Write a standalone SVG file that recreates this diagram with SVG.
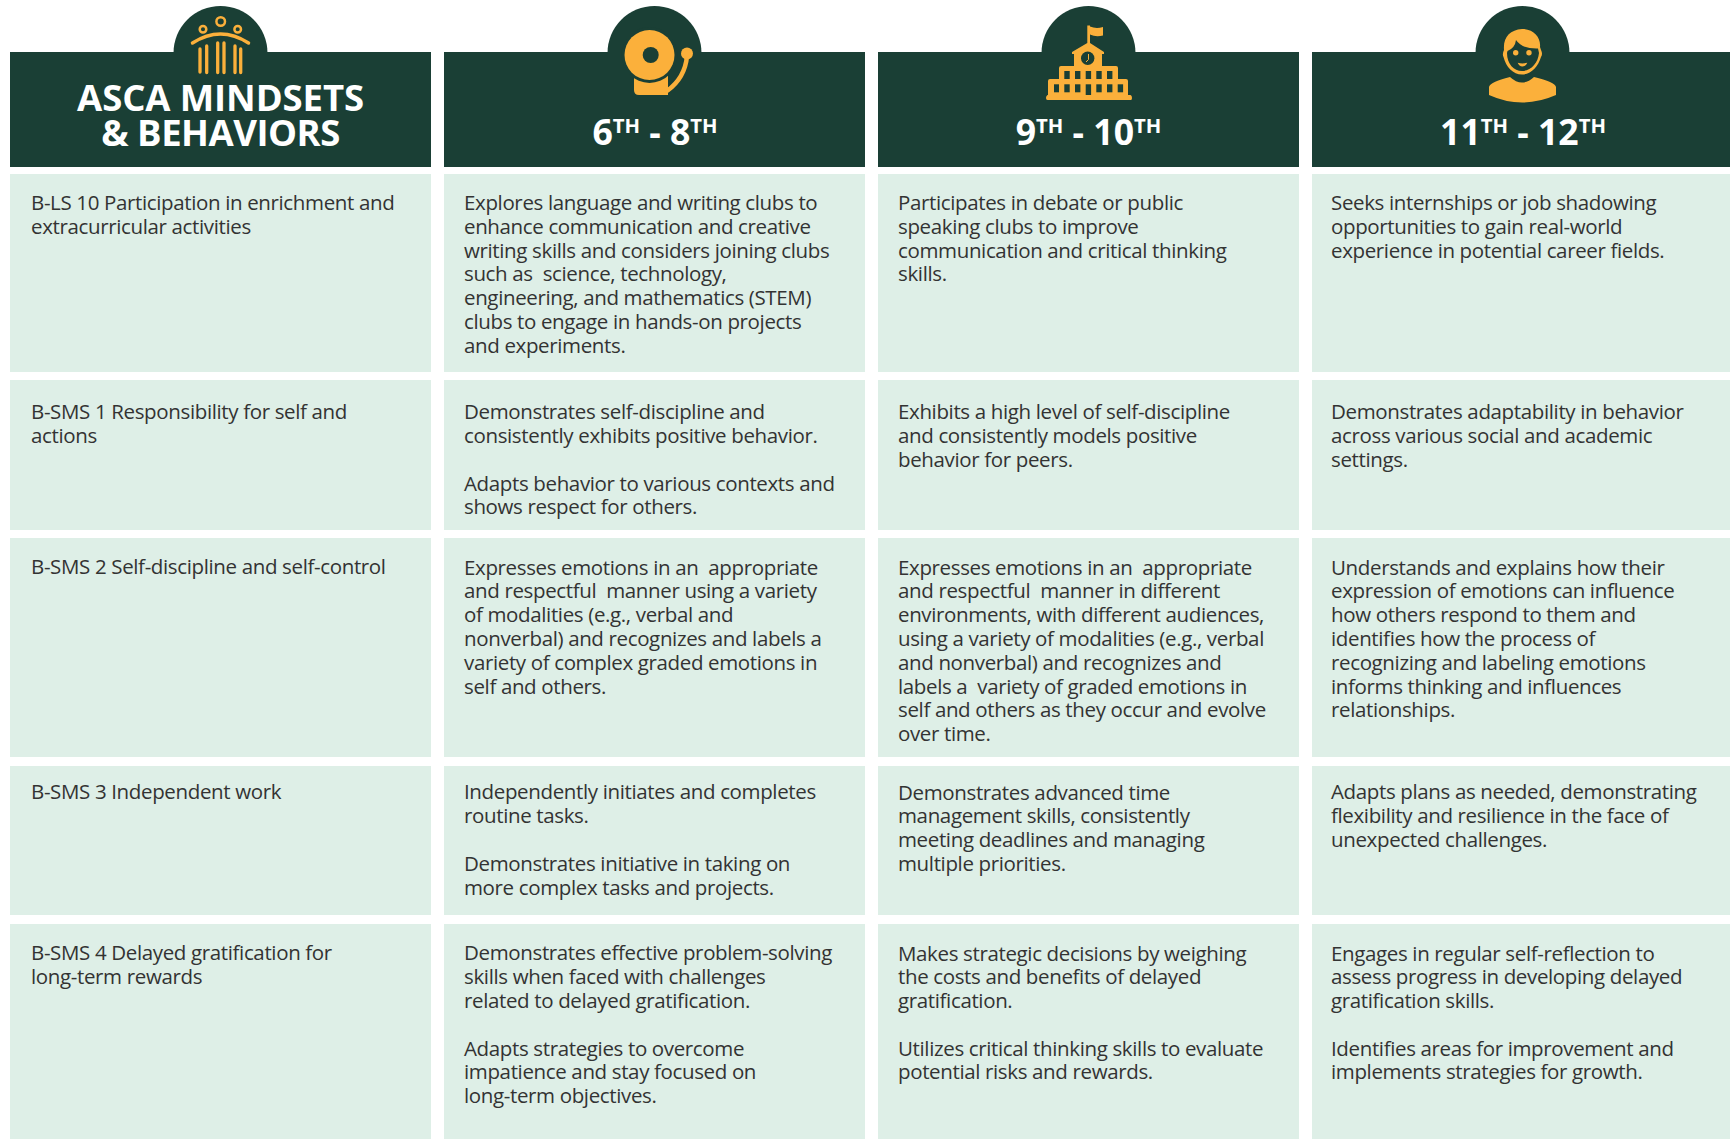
<svg xmlns="http://www.w3.org/2000/svg" width="1730" height="1139" viewBox="0 0 1730 1139">
<style>
.h{fill:#1a3f35}.c{fill:#deefe7}.i{fill:#fbb03b}
.s{fill:none;stroke:#fbb03b;stroke-linecap:round}
text{font-family:"Open Sans","Noto Sans",sans-serif}
.t{font-size:20.5px;fill:#333333;letter-spacing:-0.36px;white-space:pre}
.a{font-size:36.5px;font-weight:700;fill:#fff;text-anchor:middle;letter-spacing:-0.5px}
.g{font-size:35.6px;font-weight:700;fill:#fff;text-anchor:middle}
.sup{font-size:20.3px}
</style>
<rect width="1730" height="1139" fill="#fff"/>
<g id="header-mindsets">
<circle class="h" cx="220.500" cy="53" r="47"/><rect class="h" x="10" y="52" width="421" height="115"/>
<g class="s"><circle cx="220.700" cy="21.500" r="4.300" stroke-width="2.500"/><circle cx="203" cy="29.300" r="3.300" stroke-width="2.500"/><circle cx="237.700" cy="29.300" r="3.300" stroke-width="2.500"/>
<path d="M192.500 43Q220.500 25 248.500 43" stroke-width="3.500"/>
<path d="M200 49V72M206.700 46V72.500M217.700 43V72.500M224 43V72.500M235 46V72.500M240.700 49V72.500" stroke-width="3.300"/></g>
<text class="a" x="220.500" y="111" style="letter-spacing:-0.1px">ASCA MINDSETS</text><text class="a" x="220.500" y="146">&amp; BEHAVIORS</text>
</g>
<g id="header-6-8">
<circle class="h" cx="654.500" cy="53" r="47"/><rect class="h" x="444" y="52" width="421" height="115"/>
<path class="i" d="M634 72H668V95H639Q634 95 634 90Z"/>
<path d="M687 56Q685 78 667 91" fill="none" stroke="#fbb03b" stroke-width="4.500"/>
<circle class="i" cx="687" cy="53.500" r="6"/>
<circle class="h" cx="649.500" cy="55" r="28"/>
<circle class="i" cx="649.500" cy="55" r="25"/><circle class="h" cx="650.700" cy="55" r="8"/>
<text class="g" x="655" y="145">6<tspan class="sup" dy="-12">TH</tspan><tspan dy="12"> - 8</tspan><tspan class="sup" dy="-12">TH</tspan></text>
</g>
<g id="header-9-10">
<circle class="h" cx="1088.500" cy="53" r="47"/><rect class="h" x="878" y="52" width="421" height="115"/>
<path class="i" d="M1087.300 43V25.500H1090V26.500Q1096 29 1103 27V35.500Q1096 37.500 1090 34.500V43L1104 52V54H1102V66H1116Q1118 66 1118 68V79H1126Q1128 79 1128 81V95H1130.500Q1132 95.500 1132 98T1130.500 100H1047.500Q1046 100 1046 98T1047.500 95H1048V81Q1048 79 1050 79H1059V68Q1059 66 1061 66H1074V54H1072V52Z"/>
<circle class="h" cx="1087.700" cy="58.300" r="6.700"/>
<path d="M1088.500 54V59.500L1086 62" fill="none" stroke="#fbb03b" stroke-width="1"/>
<g class="h"><rect x="1064.300" y="71" width="5.400" height="8"/><rect x="1075" y="71" width="5.400" height="8"/><rect x="1085.700" y="71" width="5.400" height="8"/><rect x="1096.300" y="71" width="5.400" height="8"/><rect x="1107" y="71" width="5.400" height="8"/>
<rect x="1054" y="84.300" width="5" height="8"/><rect x="1064.300" y="84.300" width="5.400" height="8"/><rect x="1075" y="84.300" width="5.400" height="8"/><rect x="1085.700" y="84.300" width="5.400" height="10.700"/><rect x="1096.300" y="84.300" width="5.400" height="8"/><rect x="1107" y="84.300" width="5.400" height="8"/><rect x="1117.700" y="84.300" width="5.400" height="8"/></g>
<text class="g" x="1088.500" y="145">9<tspan class="sup" dy="-12">TH</tspan><tspan dy="12"> - 10</tspan><tspan class="sup" dy="-12">TH</tspan></text>
</g>
<g id="header-11-12">
<circle class="h" cx="1522.500" cy="53" r="47"/><rect class="h" x="1312" y="52" width="418" height="115"/>
<path class="i" d="M1504 50C1503 37 1510 30 1522 29C1534 29 1541 38 1540 47L1541 50Q1543 54 1541 57C1538 67 1531 74.500 1522 74.500C1513 74.500 1506 67 1503.500 57Q1502 54 1504 50Z"/>
<path class="h" d="M1507.500 51Q1515 48 1516 40Q1522 49 1538 48.500L1539 53C1538 64 1530 71 1522 71C1514 71 1507 64 1507 53Z"/>
<circle class="i" cx="1515.700" cy="52.700" r="2.700"/><circle class="i" cx="1529" cy="52.700" r="2.700"/>
<path class="i" d="M1517.700 62.800Q1522.500 64 1527.300 62.800Q1526 66.500 1522.500 66.500Q1519 66.500 1517.700 62.800Z"/>
<path class="i" d="M1510 77Q1522 88 1534 77Q1555 82 1556 87V95Q1522 110 1489 95V87Q1490 82 1510 77Z"/>
<text class="g" x="1523" y="145">11<tspan class="sup" dy="-12">TH</tspan><tspan dy="12"> - 12</tspan><tspan class="sup" dy="-12">TH</tspan></text>
</g>
<g id="row-1">
<rect class="c" x="10" y="174" width="421" height="198"/><rect class="c" x="444" y="174" width="421" height="198"/><rect class="c" x="878" y="174" width="421" height="198"/><rect class="c" x="1312" y="174" width="418" height="198"/>
<text class="t"><tspan x="31" y="210">B-LS 10 Participation in enrichment and</tspan><tspan x="31" y="234">extracurricular activities</tspan></text>
<text class="t"><tspan x="464" y="210">Explores language and writing clubs to</tspan><tspan x="464" y="234">enhance communication and creative</tspan><tspan x="464" y="258">writing skills and considers joining clubs</tspan><tspan x="464" y="281">such as  science, technology,</tspan><tspan x="464" y="305">engineering, and mathematics (STEM)</tspan><tspan x="464" y="329">clubs to engage in hands-on projects</tspan><tspan x="464" y="353">and experiments.</tspan></text>
<text class="t"><tspan x="898" y="210">Participates in debate or public</tspan><tspan x="898" y="234">speaking clubs to improve</tspan><tspan x="898" y="258">communication and critical thinking</tspan><tspan x="898" y="281">skills.</tspan></text>
<text class="t"><tspan x="1331" y="210">Seeks internships or job shadowing</tspan><tspan x="1331" y="234">opportunities to gain real-world</tspan><tspan x="1331" y="258">experience in potential career fields.</tspan></text>
</g>
<g id="row-2">
<rect class="c" x="10" y="380" width="421" height="150"/><rect class="c" x="444" y="380" width="421" height="150"/><rect class="c" x="878" y="380" width="421" height="150"/><rect class="c" x="1312" y="380" width="418" height="150"/>
<text class="t"><tspan x="31" y="419">B-SMS 1 Responsibility for self and</tspan><tspan x="31" y="443">actions</tspan></text>
<text class="t"><tspan x="464" y="419">Demonstrates self-discipline and</tspan><tspan x="464" y="443">consistently exhibits positive behavior.</tspan><tspan x="464" y="491">Adapts behavior to various contexts and</tspan><tspan x="464" y="514">shows respect for others.</tspan></text>
<text class="t"><tspan x="898" y="419">Exhibits a high level of self-discipline</tspan><tspan x="898" y="443">and consistently models positive</tspan><tspan x="898" y="467">behavior for peers.</tspan></text>
<text class="t"><tspan x="1331" y="419">Demonstrates adaptability in behavior</tspan><tspan x="1331" y="443">across various social and academic</tspan><tspan x="1331" y="467">settings.</tspan></text>
</g>
<g id="row-3">
<rect class="c" x="10" y="538" width="421" height="219"/><rect class="c" x="444" y="538" width="421" height="219"/><rect class="c" x="878" y="538" width="421" height="219"/><rect class="c" x="1312" y="538" width="418" height="219"/>
<text class="t"><tspan x="31" y="574">B-SMS 2 Self-discipline and self-control</tspan></text>
<text class="t"><tspan x="464" y="575">Expresses emotions in an  appropriate</tspan><tspan x="464" y="598">and respectful  manner using a variety</tspan><tspan x="464" y="622">of modalities (e.g., verbal and</tspan><tspan x="464" y="646">nonverbal) and recognizes and labels a</tspan><tspan x="464" y="670">variety of complex graded emotions in</tspan><tspan x="464" y="694">self and others.</tspan></text>
<text class="t"><tspan x="898" y="575">Expresses emotions in an  appropriate</tspan><tspan x="898" y="598">and respectful  manner in different</tspan><tspan x="898" y="622">environments, with different audiences,</tspan><tspan x="898" y="646">using a variety of modalities (e.g., verbal</tspan><tspan x="898" y="670">and nonverbal) and recognizes and</tspan><tspan x="898" y="694">labels a  variety of graded emotions in</tspan><tspan x="898" y="717">self and others as they occur and evolve</tspan><tspan x="898" y="741">over time.</tspan></text>
<text class="t"><tspan x="1331" y="575">Understands and explains how their</tspan><tspan x="1331" y="598">expression of emotions can influence</tspan><tspan x="1331" y="622">how others respond to them and</tspan><tspan x="1331" y="646">identifies how the process of</tspan><tspan x="1331" y="670">recognizing and labeling emotions</tspan><tspan x="1331" y="694">informs thinking and influences</tspan><tspan x="1331" y="717">relationships.</tspan></text>
</g>
<g id="row-4">
<rect class="c" x="10" y="766" width="421" height="149"/><rect class="c" x="444" y="766" width="421" height="149"/><rect class="c" x="878" y="766" width="421" height="149"/><rect class="c" x="1312" y="766" width="418" height="149"/>
<text class="t"><tspan x="31" y="799">B-SMS 3 Independent work</tspan></text>
<text class="t"><tspan x="464" y="799">Independently initiates and completes</tspan><tspan x="464" y="823">routine tasks.</tspan><tspan x="464" y="871">Demonstrates initiative in taking on</tspan><tspan x="464" y="895">more complex tasks and projects.</tspan></text>
<text class="t"><tspan x="898" y="800">Demonstrates advanced time</tspan><tspan x="898" y="823">management skills, consistently</tspan><tspan x="898" y="847">meeting deadlines and managing</tspan><tspan x="898" y="871">multiple priorities.</tspan></text>
<text class="t"><tspan x="1331" y="799">Adapts plans as needed, demonstrating</tspan><tspan x="1331" y="823">flexibility and resilience in the face of</tspan><tspan x="1331" y="847">unexpected challenges.</tspan></text>
</g>
<g id="row-5">
<rect class="c" x="10" y="924" width="421" height="215"/><rect class="c" x="444" y="924" width="421" height="215"/><rect class="c" x="878" y="924" width="421" height="215"/><rect class="c" x="1312" y="924" width="418" height="215"/>
<text class="t"><tspan x="31" y="960">B-SMS 4 Delayed gratification for</tspan><tspan x="31" y="984">long-term rewards</tspan></text>
<text class="t"><tspan x="464" y="960">Demonstrates effective problem-solving</tspan><tspan x="464" y="984">skills when faced with challenges</tspan><tspan x="464" y="1008">related to delayed gratification.</tspan><tspan x="464" y="1056">Adapts strategies to overcome</tspan><tspan x="464" y="1079">impatience and stay focused on</tspan><tspan x="464" y="1103">long-term objectives.</tspan></text>
<text class="t"><tspan x="898" y="961">Makes strategic decisions by weighing</tspan><tspan x="898" y="984">the costs and benefits of delayed</tspan><tspan x="898" y="1008">gratification.</tspan><tspan x="898" y="1056">Utilizes critical thinking skills to evaluate</tspan><tspan x="898" y="1079">potential risks and rewards.</tspan></text>
<text class="t"><tspan x="1331" y="961">Engages in regular self-reflection to</tspan><tspan x="1331" y="984">assess progress in developing delayed</tspan><tspan x="1331" y="1008">gratification skills.</tspan><tspan x="1331" y="1056">Identifies areas for improvement and</tspan><tspan x="1331" y="1079">implements strategies for growth.</tspan></text>
</g>
</svg>
